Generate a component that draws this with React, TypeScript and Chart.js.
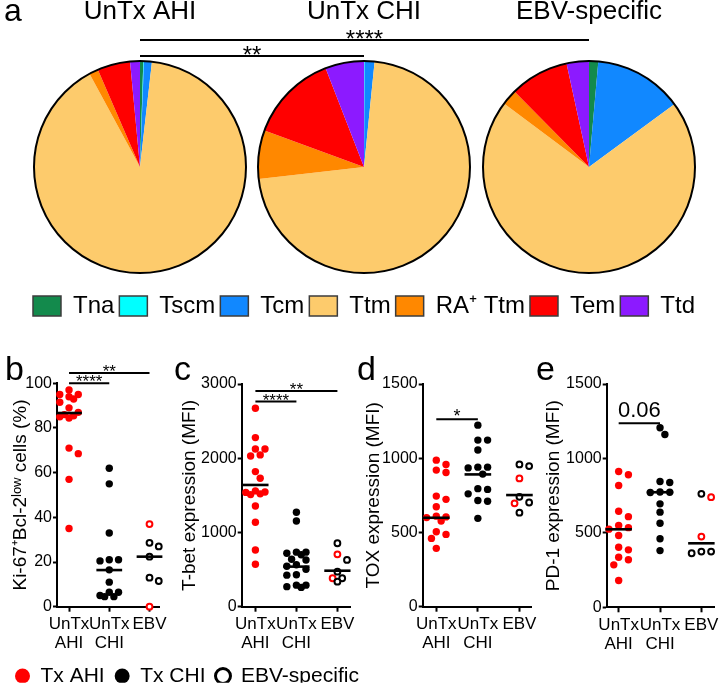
import React, { useEffect, useRef } from 'react';
import { Chart, registerables } from 'chart.js';

Chart.register(...registerables);

const FONT = "'Liberation Sans', Arial, Helvetica, sans-serif";

// ---------- Panel a : subset composition (% of cells) ----------
const subsetLabels = ['Tna', 'Tscm', 'Tcm', 'Ttm', 'RA⁺ Ttm', 'Tem', 'Ttd'];
const subsetColors = ['#138a4c', '#00ffff', '#1188ff', '#fdcb6c', '#ff8800', '#ff0000', '#8c1aff'];
const groupTitles = ['UnTx AHI', 'UnTx CHI', 'EBV-specific'];
const pieAHI = [0.5, 0.1, 1.2, 90.3, 1.4, 5.0, 1.5];
const pieCHI = [0, 0.1, 1.5, 71.6, 7.4, 13.5, 5.9];
const pieEBV = [1.4, 0, 13.5, 70.3, 2.4, 9.0, 3.4];
const pieCompare = [
  { from: 0, to: 2, text: '****' },
  { from: 0, to: 1, text: '**' },
];

// ---------- Panels b-e : categories ----------
const categoryLines = [['UnTx', 'AHI'], ['UnTx', 'CHI'], ['EBV']];
const legendNames = ['Tx AHI', 'Tx CHI', 'EBV-specific'];

// b: Ki-67+Bcl-2low cells (%)
const kiAHI = [97, 95, 95, 94, 93, 91.5, 89, 87, 86, 85.5, 85, 84.5, 71, 68.5, 57, 35];
const kiCHI = [62, 55, 33, 21, 21, 20.5, 16.5, 11, 6.5, 6.5, 5, 4.5, 4.5];
const kiEBVchi = [28.6, 27, 22.4, 13, 11.5];
const kiEBVahi = [37, 0];
const kiMedian = [86.7, 16.4, 22.4];

// c: T-bet expression (MFI)
const tbetAHI = [2674, 2278, 2125, 2125, 2045, 2031, 1820, 1731, 1560, 1545, 1540, 1520, 1510, 1357, 1137, 764, 571];
const tbetCHI = [1272, 1155, 735, 735, 720, 700, 640, 630, 565, 545, 505, 430, 425, 290, 290, 270, 260];
const tbetEBVchi = [855, 630, 472, 383, 337];
const tbetEBVahi = [706, 383];
const tbetMedian = [1640, 540, 485];

// d: TOX expression (MFI)
const toxAHI = [987, 958, 920, 904, 745, 723, 673, 610, 605, 600, 577, 505, 487, 460, 393];
const toxCHI = [1223, 1122, 1122, 1055, 940, 940, 935, 893, 795, 790, 760, 715, 710, 595];
const toxEBVchi = [958, 947, 740, 702, 633];
const toxEBVahi = [864, 696];
const toxMedian = [599, 891, 752];

// e: PD-1 expression (MFI)
const pd1AHI = [912, 890, 818, 645, 609, 549, 535, 525, 482, 403, 386, 336, 319, 285, 180];
const pd1CHI = [1206, 1161, 845, 838, 775, 773, 771, 695, 639, 565, 460, 381];
const pd1EBVchi = [762, 374, 363, 374];
const pd1EBVahi = [740, 475];
const pd1Median = [524, 773, 430];

// ---------- layout constants ----------
const PIE_CX = [140, 364, 589];
const PIE_R = 106;
const PANEL_TOP = 340;
const PANEL_H = 315;
const X_AXIS_H = 46;

type Sig = { x1: number; x2: number; y: number; text: string; size: number; dy: number };
type Panel = {
  label: string; left: number; width: number; axisX: number; axisEnd: number; cat0: number; spacing: number;
  yTop: number; yZero: number; yMax: number; step: number; titleCenter: number; yTitle: string;
  ahi: number[]; chi: number[]; ebvChi: number[]; ebvAhi: number[]; medians: number[]; sigs: Sig[];
  labelX: number; labelY: number;
};

const panels: Panel[] = [
  {
    label: 'b', left: 0, width: 170, axisX: 57, axisEnd: 168, cat0: 70, spacing: 43.5,
    yTop: 383.3, yZero: 606.7, yMax: 100, step: 20, titleCenter: 21, yTitle: 'Ki-67⁺Bcl-2ˡᵒʷ cells (%)',
    ahi: kiAHI, chi: kiCHI, ebvChi: kiEBVchi, ebvAhi: kiEBVahi, medians: kiMedian,
    sigs: [
      { x1: 0, x2: 1, y: 100, text: '****', size: 17, dy: 4 },
      { x1: 0, x2: 2, y: 104.6, text: '**', size: 17, dy: 4 },
    ],
    labelX: 5, labelY: 380,
  },
  {
    label: 'c', left: 170, width: 188, axisX: 241.7, axisEnd: 355, cat0: 256, spacing: 42.8,
    yTop: 384, yZero: 606.7, yMax: 3000, step: 1000, titleCenter: 190, yTitle: 'T-bet expression (MFI)',
    ahi: tbetAHI, chi: tbetCHI, ebvChi: tbetEBVchi, ebvAhi: tbetEBVahi, medians: tbetMedian,
    sigs: [
      { x1: 0, x2: 1, y: 2763, text: '****', size: 17, dy: 4 },
      { x1: 0, x2: 2, y: 2907, text: '**', size: 17, dy: 4 },
    ],
    labelX: 174, labelY: 380,
  },
  {
    label: 'd', left: 355, width: 185, axisX: 422.7, axisEnd: 535, cat0: 436.7, spacing: 42.8,
    yTop: 384, yZero: 606.7, yMax: 1500, step: 500, titleCenter: 373.5, yTitle: 'TOX expression (MFI)',
    ahi: toxAHI, chi: toxCHI, ebvChi: toxEBVchi, ebvAhi: toxEBVahi, medians: toxMedian,
    sigs: [{ x1: 0, x2: 1, y: 1263, text: '*', size: 18, dy: 3 }],
    labelX: 357, labelY: 380,
  },
  {
    label: 'e', left: 534, width: 188, axisX: 606.7, axisEnd: 718, cat0: 619, spacing: 42.5,
    yTop: 384, yZero: 607.3, yMax: 1500, step: 500, titleCenter: 554, yTitle: 'PD-1 expression (MFI)',
    ahi: pd1AHI, chi: pd1CHI, ebvChi: pd1EBVchi, ebvAhi: pd1EBVahi, medians: pd1Median,
    sigs: [{ x1: 0, x2: 1, y: 1237, text: '0.06', size: 22, dy: -6.5 }],
    labelX: 536, labelY: 380,
  },
];

// deterministic beeswarm (Prism-like): offsets within +-10 px; if crowded, pick least-overlapping slot
function swarm(values: number[], pxPerY: number, pxPerX: number): number[] {
  const D = 7.6;
  const slots = [0, 5, -5, 10, -10];
  const order = values.map((_, i) => i).sort((a, b) => values[b] - values[a]);
  const placed: [number, number][] = [];
  const out = values.map(() => 0);
  for (const i of order) {
    const y = values[i] * pxPerY;
    let chosen = 0;
    let bestDist = -1;
    for (const dx of slots) {
      const minD = placed.reduce((m, [px, py]) => Math.min(m, Math.hypot(px - dx, py - y)), Infinity);
      if (minD >= D) { chosen = dx; bestDist = Infinity; break; }
      if (minD > bestDist) { bestDist = minD; chosen = dx; }
    }
    placed.push([chosen, y]);
    out[i] = chosen / pxPerX;
  }
  return out;
}

// ---------- plugins ----------
const outlinePlugin = {
  id: 'pieOutline',
  afterDatasetsDraw(chart: any) {
    const arc = chart.getDatasetMeta(0).data[0];
    if (!arc) return;
    const { x, y, outerRadius } = arc.getProps(['x', 'y', 'outerRadius'], true);
    const ctx = chart.ctx;
    ctx.save();
    ctx.beginPath();
    ctx.arc(x, y, outerRadius, 0, Math.PI * 2);
    ctx.lineWidth = 2;
    ctx.strokeStyle = '#000';
    ctx.stroke();
    ctx.restore();
  },
};

const textMarksPlugin = {
  id: 'textMarks',
  afterDraw(chart: any, _a: any, opts: any) {
    const ctx = chart.ctx;
    ctx.save();
    ctx.fillStyle = '#000';
    for (const m of opts.marks || []) {
      ctx.font = `${m.size}px ${FONT}`;
      ctx.textAlign = m.align || 'left';
      ctx.textBaseline = 'alphabetic';
      ctx.fillText(m.text, m.x, m.y);
    }
    ctx.restore();
  },
};

const pieComparePlugin = {
  id: 'pieCompare',
  afterDraw(chart: any) {
    const ctx = chart.ctx;
    const ys = [40, 56];
    ctx.save();
    pieCompare.forEach((c, i) => {
      const x1 = PIE_CX[c.from];
      const x2 = PIE_CX[c.to];
      ctx.beginPath();
      ctx.moveTo(x1, ys[i]);
      ctx.lineTo(x2, ys[i]);
      ctx.lineWidth = 2;
      ctx.strokeStyle = '#000';
      ctx.stroke();
      ctx.font = `24px ${FONT}`;
      ctx.fillStyle = '#000';
      ctx.textAlign = 'center';
      ctx.textBaseline = 'alphabetic';
      ctx.fillText(c.text, (x1 + x2) / 2, ys[i] + 7.4);
    });
    ctx.restore();
  },
};

const sigPlugin = {
  id: 'sigBars',
  afterDraw(chart: any, _a: any, opts: any) {
    const ctx = chart.ctx;
    const xs = chart.scales.x;
    const ys = chart.scales.y;
    ctx.save();
    for (const s of opts.sigs || []) {
      const py = ys.getPixelForValue(s.y);
      const x1 = xs.getPixelForValue(s.x1);
      const x2 = xs.getPixelForValue(s.x2);
      ctx.beginPath();
      ctx.moveTo(x1, py);
      ctx.lineTo(x2, py);
      ctx.lineWidth = 2;
      ctx.strokeStyle = '#000';
      ctx.stroke();
      ctx.font = `${s.size}px ${FONT}`;
      ctx.fillStyle = '#000';
      ctx.textAlign = 'center';
      ctx.textBaseline = 'alphabetic';
      ctx.fillText(s.text, (x1 + x2) / 2, py + s.dy);
    }
    if (opts.label) {
      ctx.font = `34px ${FONT}`;
      ctx.textAlign = 'left';
      ctx.fillText(opts.label, opts.labelX, opts.labelY);
    }
    ctx.restore();
  },
};

// ---------- chart configs ----------
function pieConfig(values: number[], title: string, padLeft: number, padRight: number, withLegend: boolean, marks: any[]) {
  const plugins: any[] = [outlinePlugin, textMarksPlugin];
  if (withLegend) plugins.push(pieComparePlugin);
  return {
    type: 'pie',
    data: {
      labels: subsetLabels,
      datasets: [{ data: values, backgroundColor: subsetColors, borderWidth: 0 }],
    },
    options: {
      responsive: false,
      animation: false,
      radius: PIE_R,
      layout: { padding: { left: padLeft, right: padRight, top: 0, bottom: 0 } },
      plugins: {
        title: {
          display: true, text: title, color: '#000',
          font: { size: 26, weight: 'normal', lineHeight: 1, family: FONT },
          padding: { top: -1, bottom: 20 },
        },
        legend: withLegend
          ? {
              display: true,
              position: 'bottom',
              labels: {
                boxWidth: 28, boxHeight: 20, padding: 5, color: '#000',
                font: { size: 24, family: FONT },
                generateLabels: (chart: any) =>
                  chart.data.labels.map((t: string, i: number) => ({
                    text: t, fillStyle: subsetColors[i], strokeStyle: '#3c3c3c', lineWidth: 1.5,
                    hidden: false, index: i, fontColor: '#000',
                  })),
              },
            }
          : { display: false },
        tooltip: { enabled: false },
        textMarks: { marks },
      },
    },
    plugins,
  };
}

function panelConfig(p: Panel) {
  const pxPerY = (p.yZero - p.yTop) / p.yMax;
  const xmin = -(p.cat0 - p.axisX) / p.spacing;
  const xmax = (p.axisEnd - p.cat0) / p.spacing;
  const offA = swarm(p.ahi, pxPerY, p.spacing);
  const offC = swarm(p.chi, pxPerY, p.spacing);
  const ebvAll = [...p.ebvChi, ...p.ebvAhi];
  const offE = swarm(ebvAll, pxPerY, p.spacing);
  const nC = p.ebvChi.length;
  const dotBase = { showLine: false, clip: false, order: 1, pointHoverRadius: 0 };
  const datasets: any[] = [
    { ...dotBase, label: 'Tx AHI', data: p.ahi.map((v, i) => ({ x: 0 + offA[i], y: v })), pointRadius: 3.7, pointBackgroundColor: '#ff0000', pointBorderWidth: 0, backgroundColor: '#ff0000' },
    { ...dotBase, label: 'Tx CHI', data: p.chi.map((v, i) => ({ x: 1 + offC[i], y: v })), pointRadius: 3.7, pointBackgroundColor: '#000', pointBorderWidth: 0, backgroundColor: '#000' },
    { ...dotBase, label: 'EBV-specific (Tx CHI)', data: p.ebvChi.map((v, i) => ({ x: 2 + offE[i], y: v })), pointRadius: 2.9, pointBackgroundColor: '#fff', pointBorderColor: '#000', pointBorderWidth: 2 },
    { ...dotBase, label: 'EBV-specific (Tx AHI)', data: p.ebvAhi.map((v, i) => ({ x: 2 + offE[nC + i], y: v })), pointRadius: 2.9, pointBackgroundColor: '#fff', pointBorderColor: '#ff0000', pointBorderWidth: 2 },
  ];
  p.medians.forEach((m, i) => {
    datasets.push({
      label: 'median', data: [{ x: i - 0.32, y: m }, { x: i + 0.32, y: m }], showLine: true,
      borderColor: '#000', borderWidth: 2.6, pointRadius: 0, order: 0, clip: false,
    });
  });
  const yPadTop = p.yTop - PANEL_TOP;
  const padBottom = PANEL_H - (p.yZero - PANEL_TOP) - X_AXIS_H;
  const yWidth = p.axisX - p.left;
  const padRight = p.left + p.width - p.axisEnd;
  const titleLH = 19 * 1.2;
  return {
    type: 'scatter',
    data: { datasets },
    options: {
      responsive: false,
      animation: false,
      layout: { padding: { left: 0, right: padRight, top: yPadTop, bottom: padBottom } },
      plugins: {
        legend: { display: false },
        tooltip: { enabled: false },
        sigBars: { sigs: p.sigs, label: p.label, labelX: p.labelX - p.left, labelY: p.labelY - PANEL_TOP },
      },
      scales: {
        x: {
          type: 'linear', min: xmin, max: xmax,
          afterBuildTicks: (s: any) => { s.ticks = categoryLines.map((_, i) => ({ value: i })); },
          afterFit: (s: any) => { s.height = X_AXIS_H; },
          ticks: {
            autoSkip: false, maxRotation: 0, padding: 3, color: '#000',
            font: { size: 17, lineHeight: 1.12, family: FONT },
            callback: (v: number) => categoryLines[Math.round(v)] || '',
          },
          grid: { display: true, drawOnChartArea: false, tickLength: 5, tickWidth: 2, tickColor: '#000' },
          border: { display: true, color: '#000', width: 2 },
        },
        y: {
          min: 0, max: p.yMax,
          afterFit: (s: any) => { s.width = yWidth; },
          ticks: {
            stepSize: p.step, padding: 1, color: '#000', font: { size: 16, family: FONT },
            callback: (v: number) => String(v),
          },
          grid: { display: true, drawOnChartArea: false, tickLength: 4, tickWidth: 2, tickColor: '#000' },
          border: { display: true, color: '#000', width: 2 },
          title: {
            display: true, text: p.yTitle, color: '#000',
            font: { size: 19, family: FONT },
            padding: { top: p.titleCenter - p.left - titleLH / 2, bottom: 0 },
          },
        },
      },
    },
    plugins: [sigPlugin],
  };
}

function bottomLegendConfig() {
  const styles = [
    { bg: '#ff0000', border: '#ff0000', bw: 0 },
    { bg: '#000000', border: '#000000', bw: 0 },
    { bg: '#ffffff', border: '#000000', bw: 3 },
  ];
  return {
    type: 'scatter',
    data: {
      datasets: legendNames.map((n, i) => ({
        label: n, data: [], pointStyle: 'circle',
        pointBackgroundColor: styles[i].bg, pointBorderColor: styles[i].border, pointBorderWidth: styles[i].bw,
        backgroundColor: styles[i].bg, borderColor: styles[i].border, borderWidth: styles[i].bw,
      })),
    },
    options: {
      responsive: false,
      animation: false,
      layout: { padding: { left: 5, top: 15.5, right: 0, bottom: 0 } },
      scales: { x: { display: false }, y: { display: false } },
      plugins: {
        tooltip: { enabled: false },
        legend: {
          display: true, position: 'top', align: 'start',
          labels: {
            usePointStyle: true, boxWidth: 15, boxHeight: 10.6, padding: 10, color: '#000',
            font: { size: 21, family: FONT },
          },
        },
      },
    },
  };
}

const canvases = [
  { x: 0, y: 0, w: 252, h: 289 },
  { x: 0, y: 0, w: 722, h: 328 },
  { x: 477, y: 0, w: 224, h: 289 },
  ...panels.map((p) => ({ x: p.left, y: PANEL_TOP, w: p.width, h: PANEL_H })),
  { x: 0, y: 640, w: 722, h: 70 },
];

export default function App() {
  const refs = useRef<(HTMLCanvasElement | null)[]>([]);
  useEffect(() => {
    Chart.defaults.font.family = FONT;
    Chart.defaults.color = '#000';
    const configs: any[] = [
      pieConfig(pieAHI, groupTitles[0], 34, 6, false, [{ text: 'a', x: 4, y: 21, size: 32 }]),
      pieConfig(pieCHI, groupTitles[1], 6, 0, true, []),
      pieConfig(pieEBV, groupTitles[2], 6, 6, false, []),
      ...panels.map(panelConfig),
      bottomLegendConfig(),
    ];
    const charts = configs.map((c, i) => new Chart(refs.current[i] as HTMLCanvasElement, c));
    return () => charts.forEach((c) => c.destroy());
  }, []);
  return (
    <div style={{ position: 'absolute', left: 0, top: 0, width: 722, height: 689, overflow: 'hidden', background: '#fff' }}>
      {canvases.map((c, i) => (
        <canvas
          key={i}
          ref={(el) => { refs.current[i] = el; }}
          width={c.w}
          height={c.h}
          style={{ position: 'absolute', left: c.x, top: c.y, width: c.w, height: c.h }}
        />
      ))}
    </div>
  );
}
